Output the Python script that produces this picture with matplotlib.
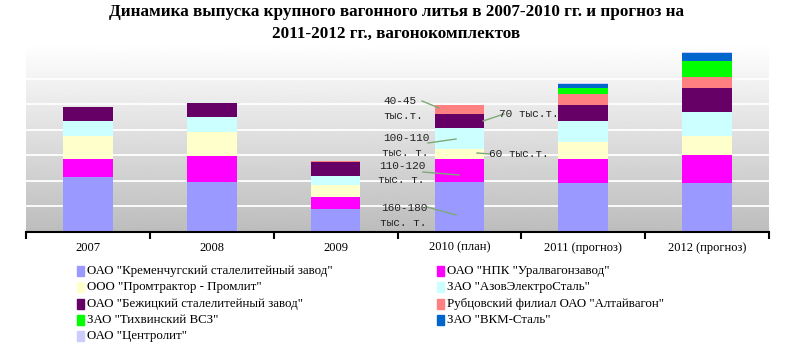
import matplotlib
matplotlib.use("Agg")
import matplotlib.pyplot as plt
import numpy as np
from matplotlib.patches import Rectangle

# categories and series (stack order: bottom -> top)
years = ["2007", "2008", "2009", "2010 (план)", "2011 (прогноз)", "2012 (прогноз)"]
companies = [
    'ОАО "Кременчугский сталелитейный завод"',
    'ОАО "НПК "Уралвагонзавод"',
    'ООО "Промтрактор - Промлит"',
    'ЗАО "АзовЭлектроСталь"',
    'ОАО "Бежицкий сталелитейный завод"',
    'Рубцовский филиал ОАО "Алтайвагон"',
    'ЗАО "Тихвинский ВСЗ"',
    'ЗАО "ВКМ-Сталь"',
    'ОАО "Центролит"',
]
kremenchug = [214, 196, 89, 196, 190, 190]
uralvagon = [70, 100, 47, 89, 94, 110]
promtraktor = [93, 94, 48, 40, 67, 77]
azov = [56, 60, 35, 83, 82, 91]
bezhitsa = [55, 53, 55, 52, 63, 94]
altaivagon = [0, 0, 5, 35, 43, 43]
tikhvin = [0, 0, 0, 0, 25, 63]
vkm = [0, 0, 0, 0, 16, 31]
centrolit = [0, 0, 0, 0, 4, 5]
series = [kremenchug, uralvagon, promtraktor, azov, bezhitsa,
          altaivagon, tikhvin, vkm, centrolit]
colors = ["#9999ff", "#ff00ff", "#ffffcc", "#ccffff", "#660066",
          "#ff8080", "#00ff00", "#0066cc", "#ccccff"]

W, H = 793, 357
fig = plt.figure(figsize=(W / 100, H / 100), dpi=100)
fig.patch.set_facecolor("white")

# axes placed in pixel terms
x0, x1, ytop, ybase = 26, 769, 44, 232
ax = fig.add_axes([x0 / W, (H - ybase) / H, (x1 - x0) / W, (ybase - ytop) / H])
ymax = (ybase - ytop) / 25.56 * 100
ax.set_xlim(-0.5, len(years) - 0.5)
ax.set_ylim(0, ymax)

# grey gradient background with white grid
grad = np.linspace(0.74, 1.0, 256).reshape(-1, 1)
ax.imshow(grad, cmap="gray", vmin=0, vmax=1, aspect="auto", origin="lower",
          extent=(-0.5, len(years) - 0.5, 0, ymax), zorder=0)
for gy in range(100, 700, 100):
    ax.axhline(gy, color="white", lw=1.3, zorder=1)

x = np.arange(len(years))
bottom = np.zeros(len(years))
for vals, c in zip(series, colors):
    ax.bar(x, vals, width=0.4, bottom=bottom, color=c, edgecolor="none", zorder=2)
    bottom += np.array(vals)

# axis styling
for s in ["top", "right", "left"]:
    ax.spines[s].set_visible(False)
ax.spines["bottom"].set_linewidth(1.5)
ax.set_yticks([])
ax.set_xticks(np.arange(-0.5, len(years), 1.0))
ax.set_xticklabels([])
ax.tick_params(axis="x", which="major", length=5, width=1.5, direction="out")
ax.set_xticks(x, minor=True)
ax.set_xticklabels(years, minor=True, fontfamily="Liberation Serif", fontsize=9)
ax.tick_params(axis="x", which="minor", length=0, pad=7)


def px2data(px, py):
    return (px - x0) / ((x1 - x0) / len(years)) - 0.5, (ybase - py) / 25.56 * 100


# 2010 callouts
mono = dict(fontfamily="Liberation Mono", fontsize=8, color="#222222", zorder=5)
labels = [
    ("40-45", (400, 101)), ("тыс.т.", (403, 116)),
    ("100-110", (406, 138)), ("тыс. т.", (405, 153)),
    ("110-120", (402, 166)), ("тыс. т.", (401, 180)),
    ("160-180", (404, 208)), ("тыс. т.", (403, 223)),
    ("70 тыс.т.", (529, 114)), ("60 тыс.т.", (519, 154)),
]
for t, (px, py) in labels:
    xd, yd = px2data(px, py)
    ax.text(xd, yd, t, ha="center", va="center", clip_on=False, **mono)
leaders = [((422, 101), (439, 108)), ((504, 114), (483, 121)),
           ((428, 143), (456, 139)), ((490, 154), (477, 153)),
           ((423, 172), (459, 175)), ((427, 207), (456, 215))]
for a, b in leaders:
    xa, ya = px2data(*a)
    xb, yb = px2data(*b)
    ax.plot([xa, xb], [ya, yb], color="#7fa878", lw=1, zorder=4, clip_on=False)

# title
fig.text(0.5, 1 - 23 / H,
         "Динамика выпуска крупного вагонного литья в 2007-2010 гг. и прогноз на\n"
         "2011-2012 гг., вагонокомплектов",
         ha="center", va="center", fontfamily="Liberation Serif",
         fontweight="bold", fontsize=12.3, linespacing=1.45)

# legend, two columns
for i, (name, c) in enumerate(zip(companies, colors)):
    col, row = i % 2, i // 2
    mx = 77 if col == 0 else 437
    my = 271 + row * 16.3
    fig.patches.append(Rectangle((mx / W, 1 - (my + 5) / H), 7 / W, 10 / H,
                                 transform=fig.transFigure, color=c))
    fig.text((mx + 10) / W, 1 - my / H, name, ha="left", va="center",
             fontfamily="Liberation Serif", fontsize=9.3)

fig.savefig("out.png", dpi=100)
